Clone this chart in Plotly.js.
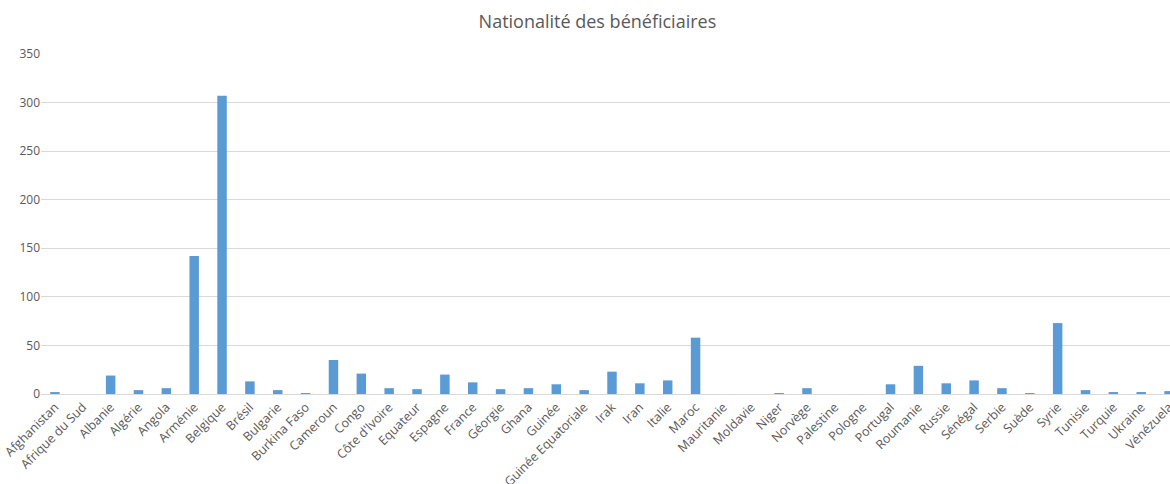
<!DOCTYPE html>
<html><head><meta charset="utf-8">
<script src="https://cdn.plot.ly/plotly-3.0.1.min.js"></script>
<style>html,body{margin:0;padding:0;overflow:hidden;background:#fff;}</style>
</head><body><div id="chart"></div>
<script>
const countries = ["Afghanistan","Afrique du Sud","Albanie","Algérie","Angola","Arménie","Belgique","Brésil","Bulgarie","Burkina Faso","Cameroun","Congo","Côte d'Ivoire","Equateur","Espagne","France","Géorgie","Ghana","Guinée","Guinée Equatoriale","Irak","Iran","Italie","Maroc","Mauritanie","Moldavie","Niger","Norvège","Palestine","Pologne","Portugal","Roumanie","Russie","Sénégal","Serbie","Suède","Syrie","Tunisie","Turquie","Ukraine","Vénézuela"];
const beneficiaires = [2,0,19,4,6,142,307,13,4,1,35,21,6,5,20,12,5,6,10,4,23,11,14,58,0,0,1,6,0,0,10,29,11,14,6,1,73,4,2,2,3];
const yTicks = [0,50,100,150,200,250,300,350];

const trace = {
  type:'bar', x: countries, y: beneficiaires,
  marker:{color:'#5B9BD5'}, hoverinfo:'x+y'
};
const layout = {
  width:1183, height:484,
  margin:{l:41, r:0, t:54, b:90},
  paper_bgcolor:'#fff', plot_bgcolor:'#fff',
  bargap:0.66,
  showlegend:false,
  title:{text:'Nationalité des bénéficiaires', x:0.505, xanchor:'center', y:0.955, yanchor:'middle',
         font:{family:'Open Sans, sans-serif', size:18, color:'#595959'}},
  xaxis:{type:'category', tickangle:-45, showgrid:false, showline:true, linecolor:'#d9d9d9', linewidth:1,
         ticks:'', tickfont:{family:'Open Sans, sans-serif', size:12.5, color:'#595959'}, automargin:false},
  yaxis:{range:[0,350], tickvals:yTicks, showgrid:true, gridcolor:'#d9d9d9', gridwidth:1, zeroline:false,
         showline:false, ticks:'', tickfont:{family:'Open Sans, sans-serif', size:12, color:'#595959'}, automargin:false}
};
Plotly.newPlot('chart',[trace],layout,{displayModeBar:false, staticPlot:true});
</script></body></html>
